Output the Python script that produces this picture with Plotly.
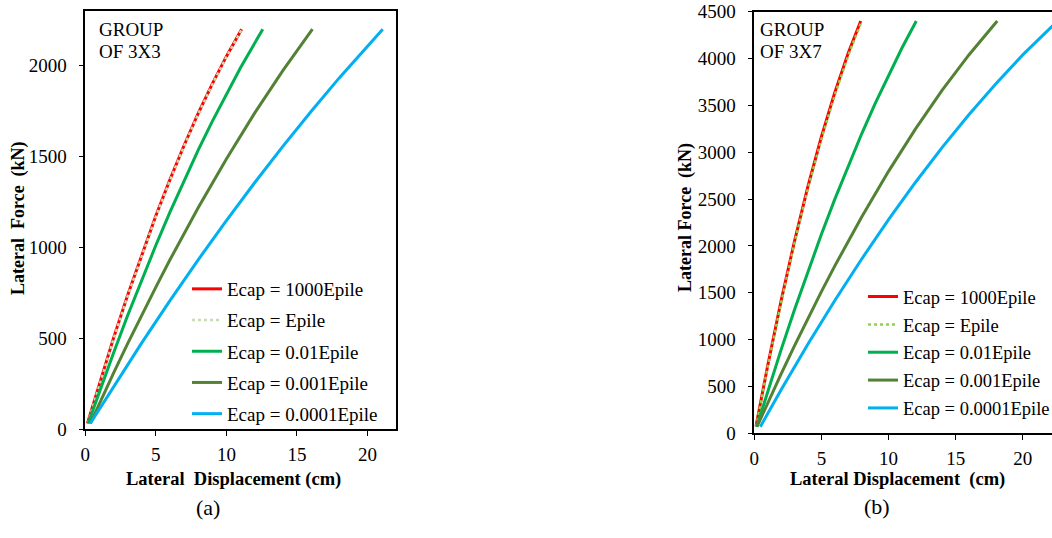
import plotly.graph_objects as go

# ---------------- data ----------------
labels = ["Ecap = 1000Epile", "Ecap = Epile", "Ecap = 0.01Epile", "Ecap = 0.001Epile", "Ecap = 0.0001Epile"]

# Panel (a) GROUP OF 3X3  (lateral displacement cm, lateral force kN)
a_1000_x = [0.15, 1, 2, 3, 4, 5, 6, 7, 8, 9, 10, 11.08]
a_1000_y = [30, 251, 500, 736, 960, 1173, 1372, 1560, 1736, 1899, 2050, 2200]
a_1_x = [0.17, 1.02, 2.02, 3.02, 4.02, 5.02, 6.02, 7.02, 8.02, 9.02, 10.02, 11.1]
a_1_y = [30, 251, 500, 736, 960, 1173, 1372, 1560, 1736, 1899, 2050, 2200]
a_001_x = [0.2, 1, 2, 3, 4, 5, 6, 7, 8, 9, 10, 11, 12.58]
a_001_y = [30, 206, 418, 624, 821, 1011, 1193, 1367, 1534, 1693, 1845, 1988, 2200]
a_0001_x = [0.35, 1, 2, 3, 4, 5, 6, 7, 8, 10, 12, 14, 16.1]
a_0001_y = [30, 141, 307, 470, 628, 781, 931, 1076, 1217, 1486, 1738, 1972, 2200]
a_00001_x = [0.35, 2, 4, 6, 8, 10, 12, 14, 16, 18, 20, 21.08]
a_00001_y = [30, 234, 474, 706, 931, 1147, 1355, 1555, 1747, 1932, 2108, 2200]

# Panel (b) GROUP OF 3X7
b_1000_x = [0.12, 0.5, 1, 2, 3, 4, 5, 6, 7, 7.93]
b_1000_y = [70, 358, 724, 1416, 2054, 2637, 3165, 3639, 4059, 4400]
b_1_x = [0.14, 0.52, 1.02, 2.03, 3.03, 4.04, 5.05, 6.06, 7.07, 8.0]
b_1_y = [70, 358, 724, 1416, 2054, 2637, 3165, 3639, 4059, 4400]
b_001_x = [0.18, 1, 2, 3, 4, 5, 6, 7, 8, 9, 10, 11, 12.07]
b_001_y = [70, 448, 893, 1321, 1731, 2124, 2499, 2857, 3197, 3519, 3824, 4112, 4400]
b_0001_x = [0.2, 1, 2, 3, 4, 5, 6, 7, 8, 10, 12, 14, 16, 18.1]
b_0001_y = [70, 325, 635, 936, 1229, 1512, 1787, 2052, 2309, 2796, 3247, 3662, 4041, 4400]
b_00001_x = [0.45, 1, 2, 4, 6, 8, 10, 12, 14, 16, 18, 20, 22.18, 22.6]
b_00001_y = [70, 211, 464, 952, 1417, 1860, 2280, 2677, 3052, 3403, 3732, 4039, 4347, 4403]

x_ticks = [0, 5, 10, 15, 20]
a_y_ticks = [0, 500, 1000, 1500, 2000]
b_y_ticks = [0, 500, 1000, 1500, 2000, 2500, 3000, 3500, 4000, 4500]

colors_a = ["#FF0000", "#C6DDB4", "#00B050", "#548235", "#00B0F0"]
colors_b = ["#FF0000", "#92D050", "#00B050", "#548235", "#00B0F0"]

FONT = "Liberation Serif, Times New Roman, DejaVu Serif, serif"

fig = go.Figure()

a_series = [(a_1000_x, a_1000_y), (a_1_x, a_1_y), (a_001_x, a_001_y), (a_0001_x, a_0001_y), (a_00001_x, a_00001_y)]
b_series = [(b_1000_x, b_1000_y), (b_1_x, b_1_y), (b_001_x, b_001_y), (b_0001_x, b_0001_y), (b_00001_x, b_00001_y)]

for i, (xs, ys) in enumerate(a_series):
    fig.add_trace(go.Scatter(
        x=xs, y=ys, mode="lines", name=labels[i], xaxis="x", yaxis="y",
        line=dict(color=colors_a[i], width=2.5 if i == 1 else 3, dash="dot" if i == 1 else "solid"),
        legend="legend", legendgroup="a%d" % i, showlegend=True))

for i, (xs, ys) in enumerate(b_series):
    fig.add_trace(go.Scatter(
        x=xs, y=ys, mode="lines", name=labels[i], xaxis="x2", yaxis="y2",
        line=dict(color=colors_b[i], width=2.5 if i == 1 else 3, dash="dot" if i == 1 else "solid"),
        legend="legend2", legendgroup="b%d" % i, showlegend=True))

W, H = 1052, 538

def axstyle(**kw):
    d = dict(showgrid=False, zeroline=False, showline=True, linecolor="black", linewidth=1.5,
             ticks="outside", ticklen=5, tickcolor="black", tickwidth=1, automargin=False,
             tickfont=dict(family=FONT, size=19, color="black"))
    d.update(kw)
    return d

fig.update_layout(
    template="none",
    width=W, height=H,
    margin=dict(l=0, r=0, t=0, b=0, pad=0, autoexpand=False),
    paper_bgcolor="white", plot_bgcolor="white",
    font=dict(family=FONT, color="black"),
    xaxis=axstyle(domain=[85.3 / W, 395.7 / W], range=[0, 22], tickvals=x_ticks, mirror=True,
                  anchor="y", ticklabelstandoff=2),
    yaxis=axstyle(domain=[1 - 429 / H, 1 - 11 / H], range=[0, 2300], tickvals=a_y_ticks, mirror=True,
                  anchor="x", ticklabelstandoff=8),
    xaxis2=axstyle(domain=[754.3 / W, 1.0], range=[0, 22.18], tickvals=x_ticks, mirror=True,
                   anchor="y2", ticklabelstandoff=2),
    yaxis2=axstyle(domain=[1 - 433.3 / H, 1 - 11.7 / H], range=[0, 4500], tickvals=b_y_ticks,
                   anchor="x2", ticklabelstandoff=8),
    legend=dict(x=187 / W, y=1 - 270 / H, xanchor="left", yanchor="top",
                bgcolor="rgba(0,0,0,0)", font=dict(family=FONT, size=19, color="black"),
                tracegroupgap=3.5, itemwidth=30),
    legend2=dict(x=863 / W, y=1 - 278 / H, xanchor="left", yanchor="top",
                 bgcolor="rgba(0,0,0,0)", font=dict(family=FONT, size=18.5, color="black"),
                 tracegroupgap=0.8, itemwidth=30),
    showlegend=True,
)

ann = []
def A(text, x, y, size, bold=False, xanchor="center", yanchor="middle", angle=0):
    ann.append(dict(text=("<b>%s</b>" % text) if bold else text, x=x / W, y=1 - y / H,
                    xref="paper", yref="paper", showarrow=False, xanchor=xanchor, yanchor=yanchor,
                    textangle=angle, font=dict(family=FONT, size=size, color="black")))

NB = "\u00a0"
A("GROUP", 97, 30, 19, xanchor="left")
A("OF 3X3", 97, 51, 19, xanchor="left")
A("GROUP", 758, 30, 19, xanchor="left")
A("OF 3X7", 758, 52, 19, xanchor="left")
A("Lateral" + NB + " Force" + NB + " (kN)", 19, 218, 18, bold=True, angle=-90)
A("Lateral Force" + NB + " (kN)", 686, 218, 18, bold=True, angle=-90)
A("Lateral" + NB + " Displacement (cm)", 233, 479, 18.5, bold=True)
A("Lateral Displacement" + NB + " (cm)", 897, 479, 18.5, bold=True)
A("(a)", 208, 507, 22)
A("(b)", 877, 506, 22)
fig.update_layout(annotations=ann)

fig.write_html("out.html")
